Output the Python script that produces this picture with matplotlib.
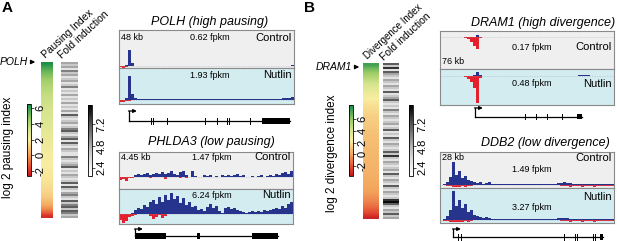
import numpy as np
import matplotlib
matplotlib.use('Agg')
import matplotlib.pyplot as plt
from matplotlib.colors import LinearSegmentedColormap, Normalize
from matplotlib.cm import ScalarMappable
from matplotlib.patches import FancyArrowPatch, Rectangle

W, H = 617, 241
plt.rcParams['font.family'] = ['Liberation Sans', 'DejaVu Sans']
plt.rcParams['axes.unicode_minus'] = False

# ---- heatmap columns (sorted index, top -> bottom) ----
pausing = [6.3, 5.7, 5.2, 4.8, 4.5, 4.2, 4.0, 3.8, 3.6, 3.5,
           3.4, 3.3, 3.2, 3.1, 3.0, 2.9, 2.8, 2.7, 2.6, 2.5,
           2.4, 2.3, 2.2, 2.1, 2.05, 2.0, 1.95, 1.9, 1.85, 1.8,
           1.7, 1.6, 1.5, 1.3, 1.1, 0.8, 0.4, -0.2, -1.0, -2.0]
divergence = [7.5, 6.5, 5.8, 5.2, 4.6, 4.0, 3.5, 3.0, 2.6, 2.3,
              2.0, 1.8, 1.6, 1.4, 1.3, 1.2, 1.1, 1.0, 0.9, 0.85,
              0.8, 0.75, 0.7, 0.65, 0.6, 0.55, 0.5, 0.45, 0.4, 0.3,
              0.2, 0.1, 0.0, -0.2, -0.5, -0.8, -1.2, -1.7, -2.3, -3.2]
fold_a = [5, 4, 5, 3, 6, 4, 5, 3, 4, 5, 3, 4, 6, 3, 4, 3, 5, 3, 4, 3,
          5, 3, 4, 3, 5, 3, 7, 4, 3, 4, 5, 3, 4, 6, 7, 4, 3, 5, 7, 3,
          7, 4, 3, 5, 4, 3, 3, 6, 4, 3, 4, 5, 7, 3, 4, 3, 5, 4, 3, 4,
          7, 3, 7, 4, 3, 5, 6, 4, 3, 7, 4, 6, 7, 4, 7, 6, 4, 5]
fold_b = [7, 4, 8, 3, 7, 5, 4, 3, 5, 4, 3, 5, 4, 3, 7, 3, 4, 5, 7, 4,
          3, 4, 3, 6, 4, 3, 5, 4, 3, 4, 5, 3, 4, 7, 3, 4, 3, 7, 4, 3,
          5, 4, 3, 4, 7, 4, 8, 4, 3, 5, 4, 3, 4, 5, 3, 7, 4, 3, 5, 4,
          3, 7, 4, 3, 5, 4, 3, 4, 8, 9, 7, 4, 3, 5, 4, 7, 4, 5]

idx_ticks = [6, 4, 2, 0, -2]
fold_ticks = [2.4, 4.8, 7.2]

# ---- coverage tracks (58 bins each, sense up / antisense down) ----
polh_ctrl_pos = [0, 0, 1, 16, 3, 0.5, 0.3, 0.2, 0.3, 0.2,
                 0.2, 0.3, 0.2, 0.2, 0.3, 0.2, 0.2, 0.2, 0.3, 0.2,
                 0.2, 0.3, 0.2, 0.2, 0.2, 0.3, 0.2, 0.2, 0.2, 0.3,
                 0.2, 0.2, 0.3, 0.2, 0.2, 0.2, 0.3, 0.2, 0.2, 0.3,
                 0.2, 0.2, 0.2, 0.3, 0.2, 0.2, 0.3, 0.2, 0.2, 0.2,
                 0.3, 0.2, 0.3, 0.4, 0.3, 0.5, 0.4, 0.6]
polh_ctrl_neg = [1, 1.5, 0.5, 0, 0, 0, 0, 0, 0, 0,
                 0, 0, 0, 0, 0, 0, 0, 0, 0, 0,
                 0, 0, 0, 0, 0, 0, 0, 0, 0, 0,
                 0, 0, 0, 0, 0, 0, 0, 0, 0, 0,
                 0, 0, 0, 0, 0, 0, 0, 0, 0, 0,
                 0, 0, 0, 0, 0, 0, 0, 0]
polh_nut_pos = [0, 0, 2, 24, 6, 2, 1.2, 1, 0.8, 1,
                1, 0.7, 0.8, 1, 0.6, 0.8, 0.7, 1, 0.6, 0.7,
                0.8, 0.6, 0.7, 0.8, 0.6, 0.7, 0.6, 0.8, 0.7, 0.6,
                0.7, 0.6, 0.8, 0.6, 0.7, 0.6, 0.7, 0.8, 0.6, 0.7,
                0.6, 0.7, 0.8, 0.6, 0.7, 0.8, 0.7, 0.8, 0.9, 0.8,
                1, 1.2, 1.5, 1.3, 2, 2.5, 2, 3]
polh_nut_neg = [1.5, 2, 1, 0.5, 0, 0, 0, 0, 0, 0,
                0, 0, 0, 0, 0, 0, 0, 0, 0, 0,
                0, 0, 0, 0, 0, 0, 0, 0, 0, 0,
                0, 0, 0, 0, 0, 0, 0, 0, 0, 0,
                0, 0, 0, 0, 0, 0, 0, 0, 0, 0,
                0, 0, 0, 0, 0, 0, 0, 0]

phl_ctrl_pos = [0, 0, 0, 0, 0, 2, 3, 2, 3, 4,
                2, 3, 4, 3, 5, 3, 4, 6, 3, 2,
                5, 6, 2, 0.5, 6, 1, 0, 0.5, 2, 1.5,
                2, 0.5, 1, 0.5, 2, 1, 2, 1, 2, 3,
                1, 2, 0.5, 0, 1, 0.5, 1, 2, 0.5, 1,
                2, 1, 3, 2, 4, 5, 3, 6]
phl_ctrl_neg = [3, 2, 4, 1, 1, 0, 0, 0, 0, 0,
                1, 0, 0, 0, 0, 1.5, 0, 0, 0, 0,
                1, 0, 1, 0, 0, 0, 0, 0, 0, 0,
                0, 0, 0, 0, 0, 0, 0, 0, 0, 0,
                0, 0, 0, 0, 0, 0, 0, 0, 0, 0,
                0, 0, 0, 0, 0, 0, 0, 0]
phl_nut_pos = [0, 0, 0, 0, 1, 4, 6, 5, 9, 7,
               12, 14, 10, 17, 12, 19, 14, 21, 15, 18,
               11, 16, 9, 12, 7, 8, 4, 5, 3, 7,
               10, 6, 8, 3, 1, 6, 7, 5, 6, 4,
               3, 2, 1, 2, 3, 2, 3, 2, 4, 3,
               4, 5, 6, 5, 8, 6, 10, 12]
phl_nut_neg = [6, 9, 7, 3, 2, 0.5, 0, 0, 0, 0,
               2, 5, 3, 1, 4, 2, 0, 0, 0, 0,
               0, 0, 0, 0, 0, 0, 0, 0, 0, 0,
               0, 0, 0, 0, 0, 0, 0, 0, 0, 0,
               0, 0, 0, 0, 0, 0, 0, 0, 0, 0,
               0, 0, 0, 0, 0, 0, 0, 0]

dram_ctrl_pos = [0.3, 0.3, 0.2, 0.3, 0.3, 0.2, 0.3, 0.3, 0.2, 0.3,
                 0.3, 0.5, 2, 0.3, 0.3, 0.2, 0.3, 0.3, 0.2, 0.3,
                 0.3, 0.2, 0.3, 0.3, 0.2, 0.3, 0.3, 0.2, 0.3, 0.3,
                 0.2, 0.3, 0.3, 0.2, 0.3, 0.3, 0.2, 0.3, 0.3, 0.2,
                 0.3, 0.3, 0.2, 0.3, 0.3, 0.2, 0.3, 0.3, 0.2, 0.3,
                 0.3, 0.2, 0.3, 0.3, 0.2, 0.3, 0.3, 0.2]
dram_ctrl_neg = [0, 0, 0, 0, 0, 0, 0, 0, 0.5, 2,
                 5, 9, 12, 0.5, 0, 0, 0, 0, 0, 0,
                 0, 0, 0, 0, 0, 0, 0, 0, 0, 0,
                 0, 0, 0, 0, 0, 0, 0, 0, 0, 0,
                 0, 0, 0, 0, 0, 0, 0, 0, 0, 0,
                 0, 0, 0, 0, 0, 0, 0, 0]
dram_nut_pos = [0.4, 0.3, 0.4, 0.4, 0.3, 0.4, 0.4, 0.3, 0.4, 0.4,
                0.5, 0.8, 4, 0.6, 0.4, 0.5, 0.4, 0.4, 0.5, 0.4,
                0.4, 0.5, 0.4, 0.4, 0.5, 0.4, 0.4, 0.5, 0.4, 0.4,
                0.5, 0.4, 0.4, 0.5, 0.4, 0.4, 0.5, 0.4, 0.4, 0.5,
                0.4, 0.4, 0.5, 0.4, 0.4, 0.5, 0.6, 1, 1.5, 0.6,
                0.4, 0.5, 0.4, 0.4, 0.5, 0.4, 0.4, 0.5]
dram_nut_neg = [0, 0, 0, 0, 0, 0, 0, 0, 1, 3,
                6, 12, 27, 2, 0, 0, 0, 0, 0, 0,
                0, 0, 0, 0, 0, 0, 0, 0, 0, 0,
                0, 0, 0, 0, 0, 0, 0, 0, 0, 0,
                0, 0, 0, 0, 0, 0, 0, 0, 0, 0,
                0, 0, 0, 0, 0, 0, 0, 0]

ddb_ctrl_pos = [0.5, 1, 3, 8, 23, 10, 14, 7, 9, 5,
                4, 3, 2, 3, 1.5, 2, 3, 1, 1.5, 1,
                0.8, 1, 0.7, 0.8, 1, 0.6, 0.8, 0.7, 1, 0.8,
                0.7, 1, 0.8, 1.2, 0.9, 1, 1.3, 1.5, 1.2, 2,
                2.5, 3, 2, 2.5, 1.5, 1.2, 1, 0.8, 1, 0.7,
                0.8, 1, 0.6, 0.8, 0.7, 0.9, 0.6, 0.8]
ddb_ctrl_neg = [0, 0, 0.5, 1, 2, 1.5, 2, 1, 1.5, 1,
                0.5, 0, 0, 0, 0, 0, 0, 0, 0, 0,
                0, 0, 0, 0, 0, 0, 0, 0, 0, 0,
                0, 0, 0, 0, 0, 0, 0, 0, 0, 0,
                0.5, 0.5, 1, 1.5, 1, 0.5, 1, 1.5, 1, 0.5,
                1, 1.5, 0.5, 1, 1, 0.5, 1, 0.5]
ddb_nut_pos = [0.5, 1.5, 4, 10, 29, 14, 20, 12, 16, 8,
               10, 5, 4, 3, 2, 3, 2, 1.5, 1.2, 1,
               1, 0.8, 1, 1.2, 0.8, 1, 1.5, 0.8, 1, 0.9,
               1, 0.8, 1.2, 1, 0.9, 1.2, 1.5, 1.2, 1.5, 2,
               2.5, 2, 2.5, 1.5, 1.2, 1, 1, 0.8, 1, 0.9,
               1, 0.8, 1, 0.9, 0.8, 1, 0.8, 1]
ddb_nut_neg = [0, 0.5, 1, 1.5, 2, 2, 1.5, 2, 1, 1.5,
               0.5, 0, 0, 0, 0, 0, 0, 0, 0, 0,
               0, 0, 0, 0, 0, 0, 0, 0, 0, 0,
               0, 0, 0, 0, 0, 0, 0, 0, 0, 0,
               0.5, 1, 1, 1.5, 1, 0.5, 1, 1.5, 1, 0.5,
               1, 1.5, 0.5, 1, 1, 0.5, 1, 0.5]

# gene models, positions as fraction of the window
polh_gene = dict(tss=0.057, end=0.977,
                 ticks=[0.183, 0.194, 0.274, 0.491, 0.56, 0.617, 0.629, 0.749],
                 exons=[(0.817, 0.977)])
phl_gene = dict(tss=0.092, end=0.914, ticks=[],
                exons=[(0.092, 0.270), (0.448, 0.466), (0.764, 0.914)])
dram_gene = dict(tss=0.201, end=0.816,
                 ticks=[0.489, 0.552, 0.615, 0.701], exons=[(0.787, 0.816)])
ddb_gene = dict(tss=0.075, end=0.937,
                ticks=[0.103, 0.121, 0.713, 0.776, 0.787, 0.879, 0.891],
                exons=[(0.920, 0.937)])

BLUE = '#26348e'
RED = '#e3202b'
CTRL_BG = '#efefef'
NUT_BG = '#d3ecf0'
EDGE = '#8a8a8a'

idx_cmap = LinearSegmentedColormap.from_list('idx', [
    (0.0, '#c1121f'), (0.12, '#e2472f'), (0.3, '#f3a35a'),
    (0.5, '#f9eda0'), (0.64, '#d6e58e'), (0.78, '#9fcd66'), (1.0, '#138a46')])
norm_a = Normalize(-2.6, 6.5)
norm_b = Normalize(-3.7, 8.4)
fold_norm = Normalize(1.5, 9.3)

fig = plt.figure(figsize=(W / 100, H / 100), dpi=100)


def px_ax(x0, y0, x1, y1):
    return fig.add_axes([x0 / W, 1 - y1 / H, (x1 - x0) / W, (y1 - y0) / H])


def px_text(x, y, s, **kw):
    fig.text(x / W, 1 - y / H, s, **kw)


def column(box, vals, cmap, norm, interp):
    ax = px_ax(*box)
    ax.imshow(np.array(vals, dtype=float)[:, None], aspect='auto', cmap=cmap,
              norm=norm, interpolation=interp)
    ax.set_xticks([])
    ax.set_yticks([])
    for s in ax.spines.values():
        s.set_visible(False)


def cbar(box, cmap, norm, ticks):
    cax = px_ax(*box)
    cb = fig.colorbar(ScalarMappable(norm=norm, cmap=cmap), cax=cax)
    cb.set_ticks(ticks)
    cb.set_ticklabels([str(t) for t in ticks])
    cax.tick_params(labelsize=8, length=2, width=0.5, pad=1.5)
    for lab in cax.get_yticklabels():
        lab.set_rotation(90)
        lab.set_va('center')
    cb.outline.set_linewidth(0.6)


def track(box, pos, neg, ylim, bg):
    ax = px_ax(*box)
    ax.set_facecolor(bg)
    x = np.arange(len(pos))
    ax.bar(x, pos, width=1.0, color=BLUE, linewidth=0)
    ax.bar(x, -np.array(neg, dtype=float), width=1.0, color=RED, linewidth=0)
    ax.axhline(0, color='#9a9ab8', lw=0.4, ls=(0, (1, 2)))
    ax.set_xlim(-0.5, len(pos) - 0.5)
    ax.set_ylim(*ylim)
    ax.set_xticks([])
    ax.set_yticks([])
    for s in ax.spines.values():
        s.set_color(EDGE)
        s.set_linewidth(0.8)
    return ax


def gene(box, g, line_y, arrow_y, h):
    ax = px_ax(*box)
    ax.set_xlim(0, 1)
    ax.set_ylim(0, 1)
    ax.axis('off')
    ax.plot([g['tss'], g['end']], [line_y, line_y], color='k', lw=0.9)
    ax.plot([g['tss'], g['tss']], [line_y, arrow_y], color='k', lw=0.9)
    ax.annotate('', xy=(g['tss'] + 0.045, arrow_y), xytext=(g['tss'] - 0.003, arrow_y),
                arrowprops=dict(arrowstyle='-|>', lw=0.9, color='k',
                                mutation_scale=5, shrinkA=0, shrinkB=0))
    for t in g['ticks']:
        ax.plot([t, t], [line_y - h, line_y + h], color='k', lw=0.7)
    for a, b in g['exons']:
        ax.add_patch(Rectangle((a, line_y - h), b - a, 2 * h, color='k', lw=0))


def side_arrow(x0, x1, y):
    fig.add_artist(FancyArrowPatch((x0 / W, 1 - y / H), (x1 / W, 1 - y / H),
                                   transform=fig.transFigure, arrowstyle='-|>',
                                   mutation_scale=6, lw=0.9, color='k'))


# ================= panel A =================
px_text(2, 1, 'A', fontsize=11, fontweight='bold', va='top')
column((41, 62, 53, 218), pausing, idx_cmap, norm_a, 'bilinear')
column((61, 62, 78, 218), fold_a, 'Greys', fold_norm, 'nearest')
cbar((27, 104, 31, 176), idx_cmap, norm_a, idx_ticks)
cbar((88, 105, 92, 176), 'Greys', fold_norm, fold_ticks)
px_text(8, 147, 'log 2 pausing index', rotation=90, fontsize=8.5, ha='center', va='center')
px_text(46, 59, 'Pausing Index', rotation=43, rotation_mode='anchor', fontsize=7.5,
        ha='left', va='baseline')
px_text(62, 59, 'Fold induction', rotation=43, rotation_mode='anchor', fontsize=7.5,
        ha='left', va='baseline')
px_text(28, 62, 'POLH', fontsize=7.5, style='italic', ha='right', va='center')
side_arrow(28, 38, 62)

px_text(210, 22, 'POLH (high pausing)', fontsize=9, style='italic', ha='center', va='center')
track((119, 30, 294, 68), polh_ctrl_pos, polh_ctrl_neg, (-2, 36), CTRL_BG)
track((119, 68, 294, 104), polh_nut_pos, polh_nut_neg, (-4, 32), NUT_BG)
gene((119, 106, 294, 126), polh_gene, 0.25, 0.75, 0.14)
px_text(121, 37, '48 kb', fontsize=6.5, ha='left', va='center')
px_text(210, 38, '0.62 fpkm', fontsize=6.5, ha='center', va='center')
px_text(292, 38, 'Control', fontsize=8, ha='right', va='center')
px_text(210, 76, '1.93 fpkm', fontsize=6.5, ha='center', va='center')
px_text(292, 75, 'Nutlin', fontsize=8, ha='right', va='center')

px_text(211, 142, 'PHLDA3 (low pausing)', fontsize=9, style='italic', ha='center', va='center')
track((119, 152, 293, 189), phl_ctrl_pos, phl_ctrl_neg, (-12, 25), CTRL_BG)
track((119, 189, 293, 224), phl_nut_pos, phl_nut_neg, (-10, 25), NUT_BG)
gene((119, 225, 293, 241), phl_gene, 0.3, 0.75, 0.18)
px_text(121, 158, '4.45 kb', fontsize=6.5, ha='left', va='center')
px_text(212, 158, '1.47 fpkm', fontsize=6.5, ha='center', va='center')
px_text(291, 157, 'Control', fontsize=8, ha='right', va='center')
px_text(212, 195, '6.24 fpkm', fontsize=6.5, ha='center', va='center')
px_text(291, 195, 'Nutlin', fontsize=8, ha='right', va='center')

# ================= panel B =================
px_text(304, 1, 'B', fontsize=11, fontweight='bold', va='top')
column((363, 63, 379, 219), divergence, idx_cmap, norm_b, 'bilinear')
column((383, 63, 399, 219), fold_b, 'Greys', fold_norm, 'nearest')
cbar((349, 105, 353, 176), idx_cmap, norm_b, idx_ticks)
cbar((409, 105, 413, 176), 'Greys', fold_norm, fold_ticks)
px_text(332, 153, 'log 2 divergence index', rotation=90, fontsize=8.5, ha='center', va='center')
px_text(368, 60, 'Divergence Index', rotation=43, rotation_mode='anchor', fontsize=7,
        ha='left', va='baseline')
px_text(384, 61, 'Fold induction', rotation=43, rotation_mode='anchor', fontsize=7.5,
        ha='left', va='baseline')
px_text(352, 67, 'DRAM1', fontsize=7.5, style='italic', ha='right', va='center')
side_arrow(352, 362, 67)

px_text(543, 23, 'DRAM1 (high divergence)', fontsize=9, style='italic', ha='center', va='center')
track((440, 31, 614, 69), dram_ctrl_pos, dram_ctrl_neg, (-32, 6), CTRL_BG)
track((440, 69, 614, 105), dram_nut_pos, dram_nut_neg, (-29, 7), NUT_BG)
gene((440, 104, 614, 122), dram_gene, 0.28, 0.78, 0.14)
px_text(442, 62, '76 kb', fontsize=6.5, ha='left', va='center')
px_text(532, 48, '0.17 fpkm', fontsize=6.5, ha='center', va='center')
px_text(612, 47, 'Control', fontsize=8, ha='right', va='center')
px_text(532, 83, '0.48 fpkm', fontsize=6.5, ha='center', va='center')
px_text(612, 84, 'Nutlin', fontsize=8, ha='right', va='center')

px_text(545, 143, 'DDB2 (low divergence)', fontsize=9, style='italic', ha='center', va='center')
track((440, 152, 614, 188), ddb_ctrl_pos, ddb_ctrl_neg, (-3, 33), CTRL_BG)
track((440, 188, 614, 223), ddb_nut_pos, ddb_nut_neg, (-3, 32), NUT_BG)
gene((440, 225, 614, 241), ddb_gene, 0.25, 0.75, 0.18)
px_text(442, 157, '28 kb', fontsize=6.5, ha='left', va='center')
px_text(612, 158, 'Control', fontsize=8, ha='right', va='center')
px_text(532, 170, '1.49 fpkm', fontsize=6.5, ha='center', va='center')
px_text(612, 197, 'Nutlin', fontsize=8, ha='right', va='center')
px_text(532, 207, '3.27 fpkm', fontsize=6.5, ha='center', va='center')

fig.savefig('out.png', dpi=100)
